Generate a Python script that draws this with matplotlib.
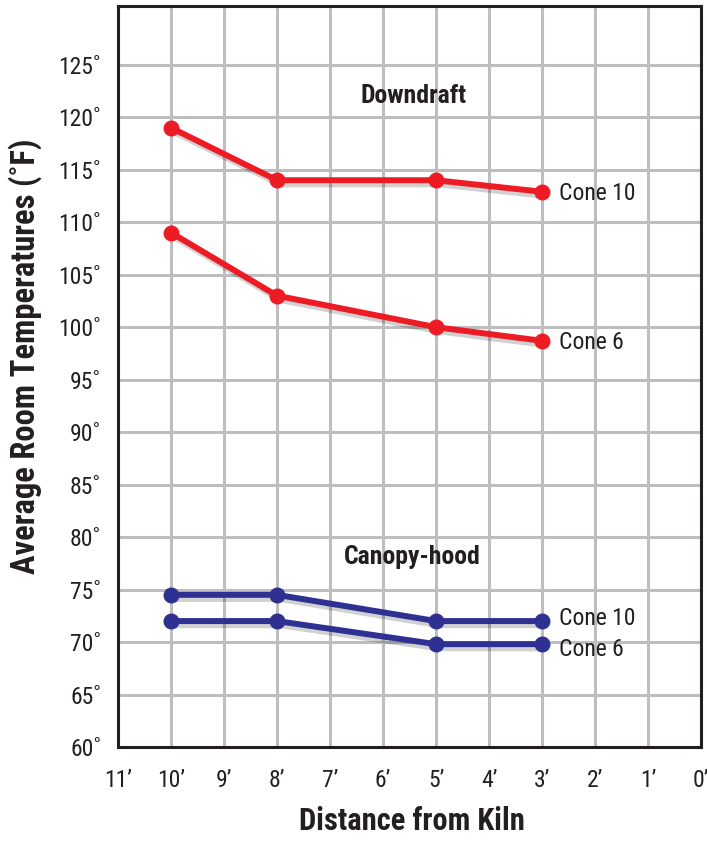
import matplotlib
matplotlib.use('Agg')
import matplotlib.pyplot as plt
import matplotlib.patheffects as pe
from matplotlib import font_manager

# distances from the kiln (feet) where readings were taken
distance = [10, 8, 5, 3]

# downdraft vent, average room temperatures (F)
down_cone10 = [119, 114, 114, 112.9]
down_cone6 = [109, 103, 100, 98.7]

# canopy hood
hood_cone10 = [74.5, 74.5, 72, 72]
hood_cone6 = [72, 72, 69.8, 69.8]

yticks = list(range(60, 130, 5))
ytick_labels = ['%d\u02da' % v for v in yticks]
xticks = list(range(11, -1, -1))
xtick_labels = ['%d\u2019' % v for v in xticks]

RED = '#ED1C24'
BLUE = '#2E3192'
INK = '#231F20'
GRID = '#BCBEC0'

# a condensed face if one is installed, otherwise fall back
names = set(f.name for f in font_manager.fontManager.ttflist)
fams = [n for n in ['Liberation Sans Narrow', 'DejaVu Sans Condensed', 'Roboto Condensed',
                    'Liberation Sans'] if n in names]
plt.rcParams['font.family'] = fams + ['DejaVu Sans']

fig = plt.figure(figsize=(7.07, 8.42), dpi=100)
ax = fig.add_axes([0.1669, 0.1128, 0.8246, 0.8801])

ax.set_xlim(11, 0)
ax.set_ylim(60, 130.6)
ax.set_xticks(xticks)
ax.set_xticklabels(xtick_labels)
ax.set_yticks(yticks)
ax.set_yticklabels(ytick_labels)
ax.tick_params(axis='both', length=0, labelsize=17, colors=INK)
ax.tick_params(axis='y', pad=12)
ax.tick_params(axis='x', pad=16)
ax.grid(True, color=GRID, linewidth=2.2)
ax.set_axisbelow(True)
for s in ax.spines.values():
    s.set_color(INK)
    s.set_linewidth(2.2)

shadow = [pe.SimpleLineShadow(offset=(2, -3), alpha=0.18, shadow_color='k'), pe.Normal()]


def series(y, color, label, dy):
    ax.plot(distance, y, color=color, linewidth=4.3, solid_capstyle='round',
            path_effects=shadow, zorder=3)
    ax.plot(distance, y, color=color, linestyle='none', marker='o', markersize=10.5, zorder=4)
    ax.annotate(label, (distance[-1], y[-1]), xytext=(12, dy),
                textcoords='offset points', ha='left', va='center',
                fontsize=17, color=INK)


series(down_cone10, RED, 'Cone 10', -1)
series(down_cone6, RED, 'Cone 6', -1)
series(hood_cone10, BLUE, 'Cone 10', 2)
series(hood_cone6, BLUE, 'Cone 6', -4)

ax.text(5.43, 122.0, 'Downdraft', ha='center', va='center', fontsize=18.5,
        fontweight='bold', color=INK)
ax.text(5.45, 78.1, 'Canopy-hood', ha='center', va='center', fontsize=18.5,
        fontweight='bold', color=INK)

ax.set_xlabel('Distance from Kiln', fontsize=22, fontweight='bold', color=INK)
ax.xaxis.set_label_coords(0.505, -0.08)
ax.set_ylabel('Average Room Temperatures (\u02daF)', fontsize=23.5, fontweight='bold',
              color=INK)
ax.yaxis.set_label_coords(-0.13, 0.528)

fig.savefig('out.png', dpi=100)
